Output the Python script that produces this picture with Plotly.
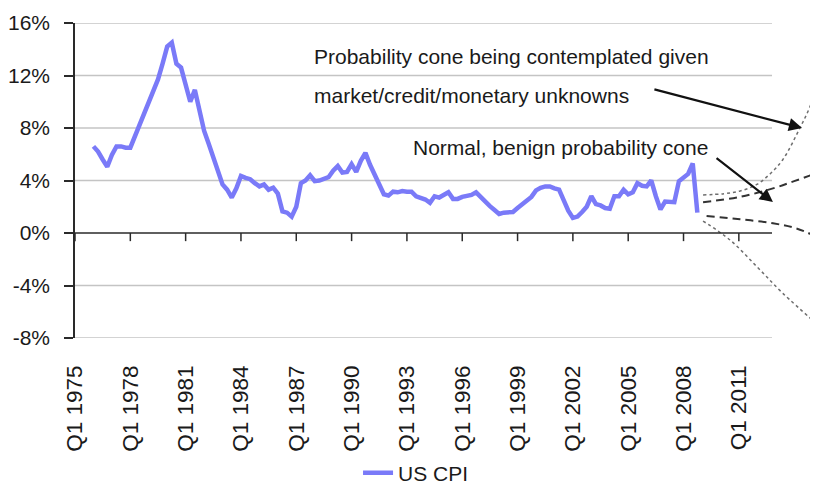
import plotly.graph_objects as go

# ---------------- data ----------------
quarters = [f"Q{q} {y}" for y in range(1976, 2009) for q in range(1, 5)]

us_cpi = [
    6.6, 6.2, 5.6, 5.05, 5.95, 6.6, 6.6, 6.5,
    6.5, 7.4, 8.3, 9.0, 9.9, 10.8, 11.7, 12.9,
    14.2, 14.5, 12.9, 12.6, 11.2, 10.0, 10.9, 9.5,
    7.8, 6.8, 5.8, 4.7, 3.7, 3.3, 2.7, 3.4,
    4.35, 4.2, 4.1, 3.8, 3.55, 3.7, 3.3, 3.45,
    3.0, 1.65, 1.55, 1.25, 2.0, 3.8, 4.0, 4.4,
    3.95, 4.0, 4.1, 4.25, 4.75, 5.1, 4.6, 4.65,
    5.25, 4.65, 5.5, 6.1, 5.2, 4.5, 3.8, 2.95,
    2.85, 3.15, 3.1, 3.2, 3.15, 3.15, 2.8, 2.7,
    2.55, 2.3, 2.8, 2.7, 2.95, 3.1, 2.6, 2.6,
    2.75, 2.85, 2.9, 3.1, 2.75, 2.3, 2.05, 1.75,
    1.45, 1.55, 1.6, 1.6, 1.9, 2.2, 2.4, 2.75,
    3.25, 3.45, 3.55, 3.55,
    3.4, 3.3, 2.5, 1.7, 1.15, 1.25, 1.6, 2.0,
    2.8, 2.2, 2.1, 1.9, 1.85, 2.8, 2.8, 3.3,
    2.95, 3.1, 3.8, 3.6, 3.55, 4.0, 2.8, 1.8,
    2.4, 2.35, 2.35, 3.95, 4.2, 4.5, 5.3, 1.55,
]

# probability cones (decimal years, %)
wide_upper_x = [2009.06, 2010.2, 2011.07, 2011.98, 2012.69, 2013.39, 2014.31, 2014.85, 2015.29]
wide_upper_y = [2.9, 3.0, 3.2, 3.7, 4.5, 5.6, 8.0, 9.6, 11.5]
wide_lower_x = [2009.06, 2010.52, 2011.98, 2013.39, 2015.29]
wide_lower_y = [0.91, -0.53, -2.57, -4.6, -7.0]
benign_upper_x = [2009.06, 2011.07, 2012.85, 2014.0, 2015.29]
benign_upper_y = [2.35, 2.75, 3.4, 3.95, 4.6]
benign_lower_x = [2009.25, 2011.07, 2012.85, 2014.1, 2015.29]
benign_lower_y = [1.3, 1.05, 0.74, 0.36, -0.33]

tick_years = list(range(1975, 2012, 3))
tick_labels = [f"Q1 {y}" for y in tick_years]
y_ticks = [-8, -4, 0, 4, 8, 12, 16]
y_labels = [f"{v}%" for v in y_ticks]

# ---------------- figure ----------------
x_years = [int(s[3:]) + (int(s[1]) - 1) / 4 for s in quarters]
X_MIN, X_PLOT_END, X_MAX = 1975, 2012.8, 2015.293

FONT = "Liberation Sans, Arial, sans-serif"
TXT = "#1a1a1a"

fig = go.Figure()

dot_style = dict(color="#6e6e6e", width=1.5, dash="dot")
dash_style = dict(color="#333333", width=2, dash="8px,5px")
for xs, ys, st in [
    (wide_upper_x, wide_upper_y, dot_style),
    (wide_lower_x, wide_lower_y, dot_style),
    (benign_upper_x, benign_upper_y, dash_style),
    (benign_lower_x, benign_lower_y, dash_style),
]:
    fig.add_trace(go.Scatter(x=xs, y=ys, mode="lines", line=dict(st, shape="spline"),
                             showlegend=False, hoverinfo="skip"))

fig.add_trace(go.Scatter(x=x_years, y=us_cpi, mode="lines", name="US CPI",
                         line=dict(color="#7A7AF8", width=4.5)))

shapes = []
for v in y_ticks:
    if v == 0:
        continue
    shapes.append(dict(type="line", xref="x", yref="y", x0=X_MIN, x1=X_PLOT_END, y0=v, y1=v,
                       line=dict(color="#c4c4c4", width=1.5), layer="below"))
shapes.append(dict(type="line", xref="x", yref="y", x0=X_MIN, x1=X_PLOT_END, y0=0, y1=0,
                   line=dict(color="#2a2a2a", width=1.5)))
for yr in tick_years:
    shapes.append(dict(type="line", xref="x", yref="y", x0=yr, x1=yr, y0=0, y1=-0.62,
                       line=dict(color="#2a2a2a", width=1.5)))

annotations = [
    dict(x=1987.85, y=13.41, xref="x", yref="y", xanchor="left", yanchor="middle",
         text="Probability cone being contemplated given", showarrow=False,
         font=dict(family=FONT, size=21, color=TXT)),
    dict(x=1987.85, y=10.44, xref="x", yref="y", xanchor="left", yanchor="middle",
         text="market/credit/monetary unknowns", showarrow=False,
         font=dict(family=FONT, size=21, color=TXT)),
    dict(x=1993.22, y=6.48, xref="x", yref="y", xanchor="left", yanchor="middle",
         text="Normal, benign probability cone", showarrow=False,
         font=dict(family=FONT, size=21, color=TXT)),
    dict(x=2014.43, y=8.0, ax=2006.34, ay=10.97, xref="x", yref="y", axref="x", ayref="y",
         text="", showarrow=True, arrowhead=2, arrowsize=1.2, arrowwidth=2.2,
         arrowcolor="#111111", standoff=0),
    dict(x=2012.85, y=2.36, ax=2009.71, ay=5.79, xref="x", yref="y", axref="x", ayref="y",
         text="", showarrow=True, arrowhead=2, arrowsize=1.2, arrowwidth=2.2,
         arrowcolor="#111111", standoff=0),
]

# the page adds an 8px body margin, so the figure is 8px smaller than the window
fig.update_layout(
    width=810, height=477,
    margin=dict(l=67, r=0, t=15, b=147, autoexpand=False),
    paper_bgcolor="white", plot_bgcolor="white",
    font=dict(family=FONT, size=21, color=TXT),
    showlegend=True,
    legend=dict(orientation="h", x=0.459, xanchor="center", y=-0.4286, yanchor="middle",
                font=dict(family=FONT, size=21, color=TXT), bgcolor="rgba(0,0,0,0)"),
    shapes=shapes,
    annotations=annotations,
    xaxis=dict(range=[X_MIN, X_MAX], showgrid=False, zeroline=False, showline=False,
               tickmode="array", tickvals=tick_years, ticktext=tick_labels,
               tickangle=-90, ticks="", ticklabelstandoff=22,
               tickfont=dict(family=FONT, size=22.5, color=TXT), automargin=False),
    yaxis=dict(range=[-8, 16], showgrid=False, zeroline=False, showline=True,
               linecolor="#2a2a2a", linewidth=1.5, ticks="outside", ticklen=9,
               tickcolor="#2a2a2a", tickwidth=1.5,
               tickmode="array", tickvals=y_ticks, ticktext=y_labels,
               ticklabelstandoff=10,
               tickfont=dict(family=FONT, size=21, color=TXT), automargin=False),
)

fig.write_html("out.html")
